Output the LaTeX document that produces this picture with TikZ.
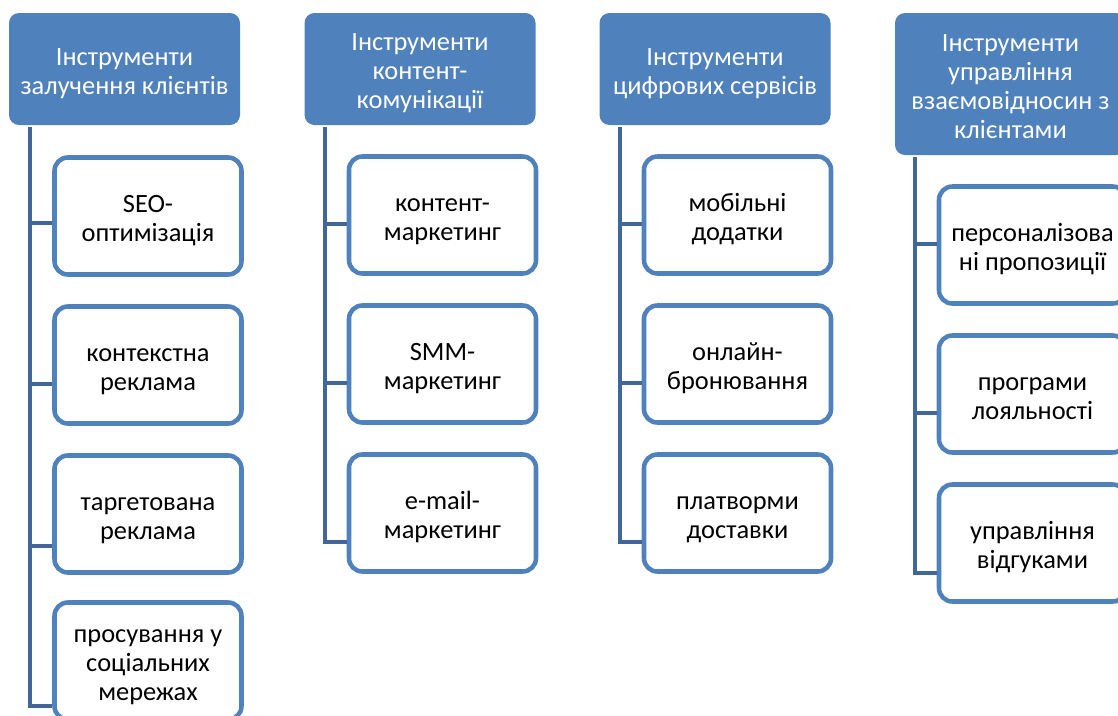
\documentclass[tikz,border=0pt]{standalone}
\usepackage{fontspec}
\setmainfont{Carlito}
\definecolor{hdr}{HTML}{4F81BD}
\definecolor{bord}{HTML}{4F81BD}
\definecolor{conn}{HTML}{41679A}
\newcommand\shiftlbl[1]{\raisebox{-3.75pt}[\height][\depth]{\begin{tabular}{@{}c@{}}#1\end{tabular}}}
\begin{document}
\begin{tikzpicture}[x=0.75pt,y=-0.75pt,
  txt/.style={font=\fontsize{19.8}{21.75}\selectfont, inner sep=0pt},
  header/.style={txt, rectangle, rounded corners=7.5pt, fill=hdr, text=white, minimum width=231*0.75pt},
  child/.style={txt, rectangle, rounded corners=10pt, draw=bord, line width=3.4pt, fill=white, text=black, minimum width=187*0.75pt, minimum height=117*0.75pt},
  connector/.style={draw=conn, line width=3.6pt, line cap=butt, line join=miter}]
\useasboundingbox (0,0) rectangle (1118,715);
\clip (0,0) rectangle (1118,715);
% headers
\node[header, minimum height=112*0.75pt] (h1) at (124.5,69) {\shiftlbl{Інструменти\\залучення клієнтів}};
\node[header, minimum height=112*0.75pt] (h2) at (420,69) {\shiftlbl{Інструменти\\контент-\\комунікації}};
\node[header, minimum height=112*0.75pt] (h3) at (715,69) {\shiftlbl{Інструменти\\цифрових сервісів}};
\node[header, minimum height=142*0.75pt] (h4) at (1010.5,84) {\shiftlbl{Інструменти\\управління\\взаємовідносин з\\клієнтами}};
% column 1
\node[child] (b11) at (148,216) {\shiftlbl{SEO-\\оптимізація}};
\node[child] (b12) at (148,365) {\shiftlbl{контекстна\\реклама}};
\node[child] (b13) at (148,514) {\shiftlbl{таргетована\\реклама}};
\node[child] (b14) at (148,661) {\shiftlbl{просування у\\соціальних\\мережах}};
% column 2
\node[child] (b21) at (442.5,215) {\shiftlbl{контент-\\маркетинг}};
\node[child] (b22) at (442.5,364) {\shiftlbl{SMM-\\маркетинг}};
\node[child] (b23) at (442.5,513) {\shiftlbl{e-mail-\\маркетинг}};
% column 3
\node[child] (b31) at (737.5,215) {\shiftlbl{мобільні\\додатки}};
\node[child] (b32) at (737.5,364) {\shiftlbl{онлайн-\\бронювання}};
\node[child] (b33) at (737.5,513) {\shiftlbl{платворми\\доставки}};
% column 4
\node[child] (b41) at (1032.5,245) {\shiftlbl{персоналізова\\ні пропозиції}};
\node[child] (b42) at (1032.5,394) {\shiftlbl{програми\\лояльності}};
\node[child] (b43) at (1032.5,543) {\shiftlbl{управління\\відгуками}};
% connector junctions
\coordinate (t1) at (30,127);
\coordinate (j11) at (30,223);
\coordinate (j12) at (30,384);
\coordinate (j13) at (30,546);
\coordinate (j14) at (30,706);
\coordinate (t2) at (325,127);
\coordinate (j21) at (325,224);
\coordinate (j22) at (325,383);
\coordinate (j23) at (325,542);
\coordinate (t3) at (620,127);
\coordinate (j31) at (620,224);
\coordinate (j32) at (620,383);
\coordinate (j33) at (620,542);
\coordinate (t4) at (915,157);
\coordinate (j41) at (915,244);
\coordinate (j42) at (915,413);
\coordinate (j43) at (915,573);
\draw[connector] (t1) -- (j14) -- (b14.west |- j14);
\draw[connector] (j11) -- (b11.west |- j11);
\draw[connector] (j12) -- (b12.west |- j12);
\draw[connector] (j13) -- (b13.west |- j13);
\draw[connector] (t2) -- (j23) -- (b23.west |- j23);
\draw[connector] (j21) -- (b21.west |- j21);
\draw[connector] (j22) -- (b22.west |- j22);
\draw[connector] (t3) -- (j33) -- (b33.west |- j33);
\draw[connector] (j31) -- (b31.west |- j31);
\draw[connector] (j32) -- (b32.west |- j32);
\draw[connector] (t4) -- (j43) -- (b43.west |- j43);
\draw[connector] (j41) -- (b41.west |- j41);
\draw[connector] (j42) -- (b42.west |- j42);
\end{tikzpicture}
\end{document}
